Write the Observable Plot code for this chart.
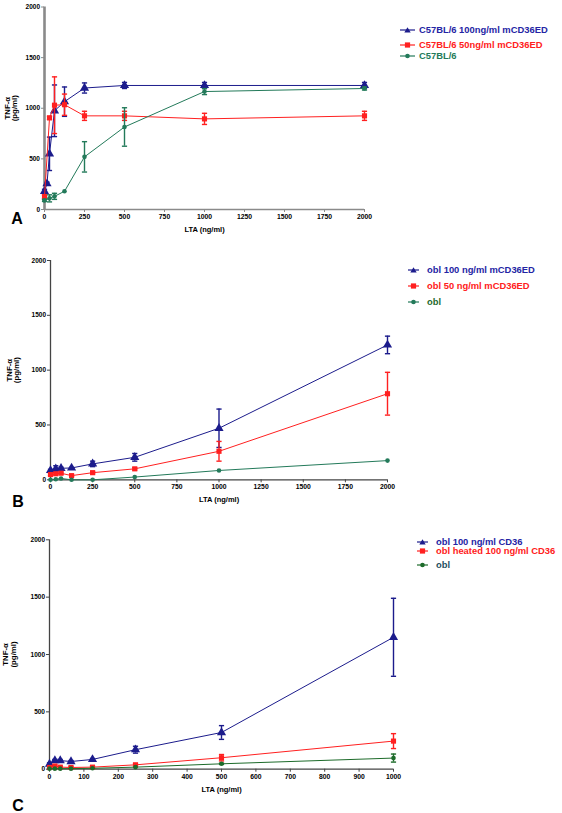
<!DOCTYPE html>
<html><head><meta charset="utf-8">
<script src="https://cdn.jsdelivr.net/npm/d3@7"></script>
<script src="https://cdn.jsdelivr.net/npm/@observablehq/plot@0.6"></script>
<style>
body{margin:0;background:#fff;font-family:"Liberation Sans",Arial,sans-serif;}
#root{position:relative;width:562px;height:813px;overflow:hidden;background:#fff}
.panel{position:absolute;left:0}
.row{position:absolute;white-space:nowrap;font-size:9.4px;font-weight:bold;line-height:10px;transform:translateY(-50%)}
.sym{position:absolute;transform:translateY(-50%)}
.letter{position:absolute;font-size:16px;font-weight:bold;transform:translate(-50%,-50%);line-height:13px}
</style></head>
<body><div id="root"></div>
<script>
// ---------- data ----------
const yTicks = [0, 500, 1000, 1500, 2000];
const xTicksA = [0, 250, 500, 750, 1000, 1250, 1500, 1750, 2000];
const xTicksC = [0, 100, 200, 300, 400, 500, 600, 700, 800, 900, 1000];

const dosesA = [0, 15.6, 31.25, 62.5, 125, 250, 500, 1000, 2000];
const blueA  = [180, 255, 550, 975, 1065, 1200, 1225, 1225, 1225];
const blueAErr = [20, 15, 165, 255, 145, 50, 30, 30, 30];
const redA   = [125, null, 905, 1030, 1035, 925, 925, 895, 925];
const redAErr = [20, null, 15, 280, 105, 45, 45, 55, 45];
const greenA = [90, null, 110, 130, 180, 520, 815, 1165, 1195];
const greenAErr = [10, null, 35, 30, 0, 150, 190, 30, 15];
const labelsA = ["C57BL/6 100ng/ml mCD36ED", "C57BL/6 50ng/ml mCD36ED", "C57BL/6"];

const dosesB = [0, 15.6, 31.25, 62.5, 125, 250, 500, 1000, 2000];
const blueB  = [85, null, 100, 105, 108, 145, 205, 470, 1230];
const blueBErr = [10, null, 28, 10, 5, 25, 35, 175, 80];
const redB   = [48, null, 55, 60, 38, 65, 100, 260, 785];
const redBErr = [10, null, 10, 10, 8, 10, 10, 90, 195];
const greenB = [0, null, 5, 12, 0, 0, 25, 85, 175];
const greenBErr = [0, null, 0, 0, 0, 0, 0, 0, 0];
const labelsB = ["obl 100 ng/ml  mCD36ED", "obl 50 ng/ml mCD36ED", "obl"];

const dosesC = [0, 15.6, 31.25, 62.5, 125, 250, 500, 1000];
const blueC  = [45, 75, 75, 67, 85, 170, 320, 1150];
const blueCErr = [10, 10, 10, 8, 8, 30, 60, 340];
const redC   = [15, 28, 18, 15, 18, 38, 100, 245];
const redCErr = [8, 10, 8, 8, 8, 12, 28, 65];
const greenC = [5, 5, 5, 5, 8, 18, 47, 97];
const greenCErr = [0, 0, 0, 0, 0, 0, 5, 35];
const labelsC = ["obl 100 ng/ml CD36", "obl heated 100 ng/ml CD36", "obl"];

const panelLetters = ["A", "B", "C"];
const xLabel = "LTA (ng/ml)";
const yLabel = "TNF-\u03b1\n(pg/ml)";

// ---------- styles ----------
const BLUE = "#1c1c8c", RED = "#ff2020", GREEN = "#237a5a", GREEN_C = "#1d6b2a";
const cap = {draw(ctx, size) { const w = Math.sqrt(size / Math.PI); ctx.moveTo(-w, 0); ctx.lineTo(w, 0); }};
const fmt = d => String(d);

function makePanel(cfg) {
  const marks = [
    Plot.ruleX([0], {stroke: cfg.axisColor, strokeWidth: cfg.yAxisWidth}),
    Plot.ruleY([0], {stroke: cfg.axisColor, strokeWidth: cfg.xAxisWidth}),
    Plot.axisY({ticks: yTicks, tickFormat: fmt, tickSize: 3, tickPadding: 1.5, stroke: cfg.axisColor, fill: "black", label: null, fontSize: 6.5, fontWeight: "bold"}),
    Plot.axisX({ticks: cfg.xTicks, tickFormat: fmt, tickSize: 3, tickPadding: 1.5, stroke: cfg.axisColor, fill: "black", label: null, fontSize: 6.8, fontWeight: "bold"}),
    Plot.text([xLabel], {frameAnchor: "bottom", dy: cfg.xLabelDy, lineAnchor: "middle", textAnchor: "middle", fontSize: 7.5, fontWeight: "bold", fill: "black"}),
    Plot.text([yLabel], {frameAnchor: "left", dx: cfg.yLabelDx, rotate: -90, textAnchor: "middle", lineAnchor: "middle", lineHeight: 1, fontSize: 7.8, fontWeight: "bold", fill: "black"})
  ];
  for (const s of cfg.series) {
    const rows = cfg.doses.map((d, i) => ({x: d, y: s.values[i], e: s.errors[i]})).filter(r => r.y != null);
    const er = rows.filter(r => r.e > 0);
    const caps = er.flatMap(r => [{x: r.x, y: r.y - r.e}, {x: r.x, y: r.y + r.e}]);
    marks.push(Plot.line(rows, {x: "x", y: "y", stroke: s.color, strokeWidth: 1}));
    marks.push(Plot.ruleX(er, {x: "x", y1: r => r.y - r.e, y2: r => r.y + r.e, stroke: s.color, strokeWidth: 1.4}));
    marks.push(Plot.dot(caps, {x: "x", y: "y", r: 2.6, symbol: cap, stroke: s.color, strokeWidth: 1.4, fill: "none"}));
    marks.push(Plot.dot(rows, {x: "x", y: "y", r: s.r, symbol: s.symbol, fill: s.color, stroke: "none"}));
  }
  return Plot.plot({
    width: 562, height: cfg.height,
    marginLeft: cfg.ml, marginRight: 562 - cfg.xEnd, marginTop: cfg.mt, marginBottom: cfg.mb,
    x: {domain: [0, cfg.xMax]},
    y: {domain: [0, 2000]},
    style: {fontFamily: "'Liberation Sans', Arial, sans-serif", background: "transparent", overflow: "visible", color: "black"},
    marks
  });
}

const root = document.getElementById("root");
function place(el, top) { const d = document.createElement("div"); d.className = "panel"; d.style.top = top + "px"; d.appendChild(el); root.appendChild(d); }

function seriesFor(vals, errs, greenColor) {
  return [
    {values: vals[0], errors: errs[0], color: BLUE, symbol: "triangle", r: 3.4},
    {values: vals[1], errors: errs[1], color: RED, symbol: "square", r: 2.9},
    {values: vals[2], errors: errs[2], color: greenColor, symbol: "circle", r: 2.3}
  ];
}

place(makePanel({height: 240, ml: 44, xEnd: 364, mt: 6.5, mb: 31, xMax: 2000, xTicks: xTicksA, doses: dosesA,
  axisColor: "#8a8a8a", yAxisWidth: 2.6, xAxisWidth: 1.4, xLabelDy: 20, yLabelDx: -33.5,
  series: seriesFor([blueA, redA, greenA], [blueAErr, redAErr, greenAErr], GREEN)}), 0);
place(makePanel({height: 270, ml: 50, xEnd: 387, mt: 15, mb: 35.7, xMax: 2000, xTicks: xTicksA, doses: dosesB,
  axisColor: "#444", yAxisWidth: 1.3, xAxisWidth: 1.3, xLabelDy: 20, yLabelDx: -37.5,
  series: seriesFor([blueB, redB, greenB], [blueBErr, redBErr, greenBErr], GREEN)}), 245);
place(makePanel({height: 288, ml: 49, xEnd: 393, mt: 14.3, mb: 44.3, xMax: 1000, xTicks: xTicksC, doses: dosesC,
  axisColor: "#444", yAxisWidth: 1.3, xAxisWidth: 1.3, xLabelDy: 20.5, yLabelDx: -40,
  series: seriesFor([blueC, redC, greenC], [blueCErr, redCErr, greenCErr], GREEN_C)}), 525);

// panel letters
[[17, 218], [18, 501], [18, 804.5]].forEach(([x, y], i) => {
  const d = document.createElement("div"); d.className = "letter"; d.textContent = panelLetters[i];
  d.style.left = x + "px"; d.style.top = y + "px"; root.appendChild(d);
});

// legends
function markerSvg(kind, color, w) {
  const c = w / 2;
  let m;
  if (kind === "triangle") m = `<path d="M${c},1.2 L${c + 3.2},6.6 L${c - 3.2},6.6 Z" fill="${color}"/>`;
  else if (kind === "square") m = `<rect x="${c - 2.6}" y="1.4" width="5.2" height="5.2" fill="${color}"/>`;
  else m = `<circle cx="${c}" cy="4" r="2.3" fill="${color}"/>`;
  return `<svg width="${w}" height="8" style="display:block"><line x1="0" x2="${w}" y1="4" y2="4" stroke="${color}" stroke-width="1.2"/>${m}</svg>`;
}
function legend(labels, ys, symX, symW, textX, colors, textColors) {
  const kinds = ["triangle", "square", "circle"];
  labels.forEach((lab, i) => {
    const s = document.createElement("div"); s.className = "sym";
    s.style.left = symX + "px"; s.style.top = ys[i] + "px"; s.innerHTML = markerSvg(kinds[i], colors[i], symW);
    root.appendChild(s);
    const t = document.createElement("div"); t.className = "row";
    t.style.left = textX + "px"; t.style.top = ys[i] + "px"; t.style.color = textColors[i]; t.textContent = lab;
    root.appendChild(t);
  });
}
legend(labelsA, [30, 44.5, 56], 400, 15, 419, [BLUE, RED, GREEN], ["#2424a4", RED, "#237a5a"]);
legend(labelsB, [270, 286, 301.5], 408, 11, 427, [BLUE, RED, GREEN], ["#2424a4", RED, "#1f6a2e"]);
legend(labelsC, [541.5, 551, 565], 417, 11, 436, [BLUE, RED, GREEN_C], ["#2424a4", RED, "#1f4f5f"]);
</script>
</body></html>
